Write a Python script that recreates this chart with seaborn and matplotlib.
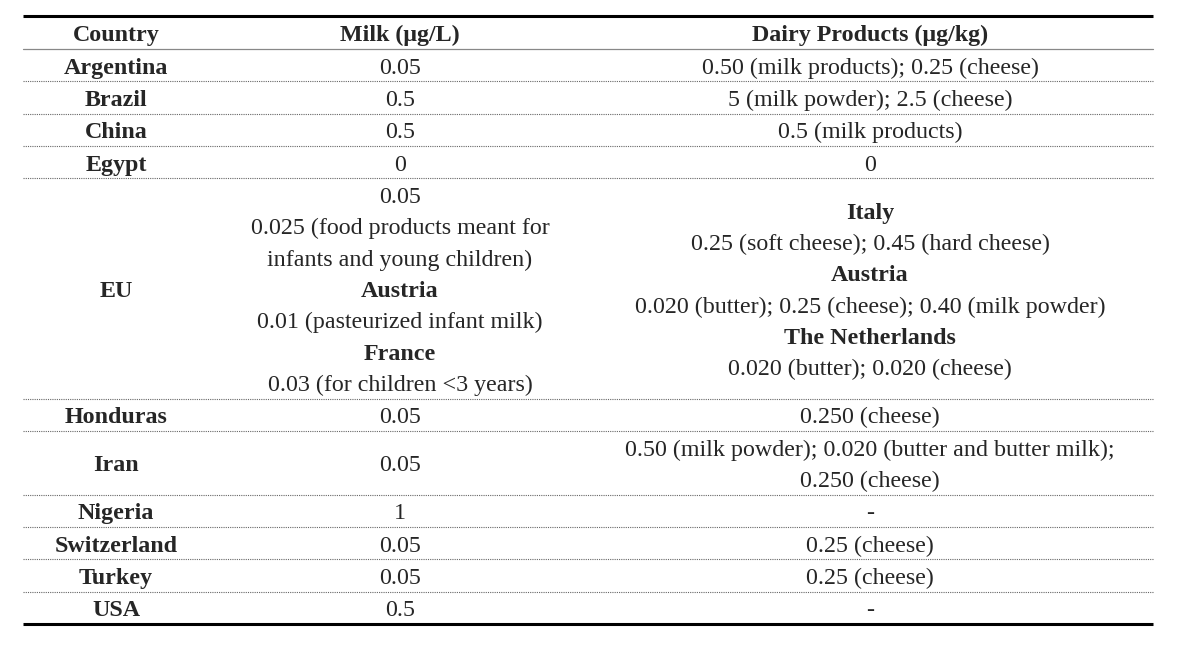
import matplotlib
matplotlib.use("Agg")
import matplotlib.pyplot as plt
import seaborn as sns

# table content; a leading "*" marks a bold line inside a cell
headers = ["Country", "Milk (μg/L)", "Dairy Products (μg/kg)"]
countries = ["Argentina", "Brazil", "China", "Egypt", "EU", "Honduras", "Iran",
             "Nigeria", "Switzerland", "Turkey", "USA"]
milk = [
    ["0.05"],
    ["0.5"],
    ["0.5"],
    ["0"],
    ["0.05", "0.025 (food products meant for", "infants and young children)",
     "*Austria", "0.01 (pasteurized infant milk)", "*France", "0.03 (for children <3 years)"],
    ["0.05"],
    ["0.05"],
    ["1"],
    ["0.05"],
    ["0.05"],
    ["0.5"],
]
dairy = [
    ["0.50 (milk products); 0.25 (cheese)"],
    ["5 (milk powder); 2.5 (cheese)"],
    ["0.5 (milk products)"],
    ["0"],
    ["*Italy", "0.25 (soft cheese); 0.45 (hard cheese)", "*Austria",
     "0.020 (butter); 0.25 (cheese); 0.40 (milk powder)", "*The Netherlands",
     "0.020 (butter); 0.020 (cheese)"],
    ["0.250 (cheese)"],
    ["0.50 (milk powder); 0.020 (butter and butter milk);", "0.250 (cheese)"],
    ["-"],
    ["0.25 (cheese)"],
    ["0.25 (cheese)"],
    ["-"],
]

sns.set_theme(style="white")
plt.rcParams["font.family"] = ["Liberation Serif", "DejaVu Serif"]

fig = plt.figure(figsize=(12, 6.45), dpi=100)
ax = fig.add_axes([0, 0, 1, 1])
ax.set_xlim(0, 1200)
ax.set_ylim(645, 0)
ax.axis("off")

x_left, x_right = 23, 1153
col_x = [116, 400, 870]
y_top, y_head, y_bottom = 16, 49, 624
line_h = 31.3
fs = 17.3
dy = 3

ax.plot([x_left, x_right], [y_top, y_top], color="black", lw=2.2, solid_capstyle="butt")
ax.plot([x_left, x_right], [y_head, y_head], color="#888888", lw=0.9)
ax.plot([x_left, x_right], [y_bottom, y_bottom], color="black", lw=2.2, solid_capstyle="butt")

for x, h in zip(col_x, headers):
    ax.text(x, (y_top + y_head) / 2 + dy, h, ha="center", va="center",
            fontsize=fs, fontweight="bold")

n_lines = [max(len(m), len(d)) for m, d in zip(milk, dairy)]
pad = ((y_bottom - y_head) - sum(n_lines) * line_h) / len(n_lines)


def draw_cell(x, yc, lines):
    n = len(lines)
    for k, s in enumerate(lines):
        y = yc + (k - (n - 1) / 2) * line_h
        bold = s.startswith("*")
        ax.text(x, y + dy, s.lstrip("*"), ha="center", va="center", fontsize=fs,
                fontweight="bold" if bold else "normal")


y = y_head
for i, c in enumerate(countries):
    h = n_lines[i] * line_h + pad
    yc = y + h / 2
    ax.text(col_x[0], yc + dy, c, ha="center", va="center", fontsize=fs, fontweight="bold")
    draw_cell(col_x[1], yc, milk[i])
    draw_cell(col_x[2], yc, dairy[i])
    y += h
    if i < len(countries) - 1:
        ax.plot([x_left, x_right], [y, y], color="#666666", lw=0.8, ls=(0, (1, 1)))

fig.savefig("out.png", dpi=100, facecolor="white")
